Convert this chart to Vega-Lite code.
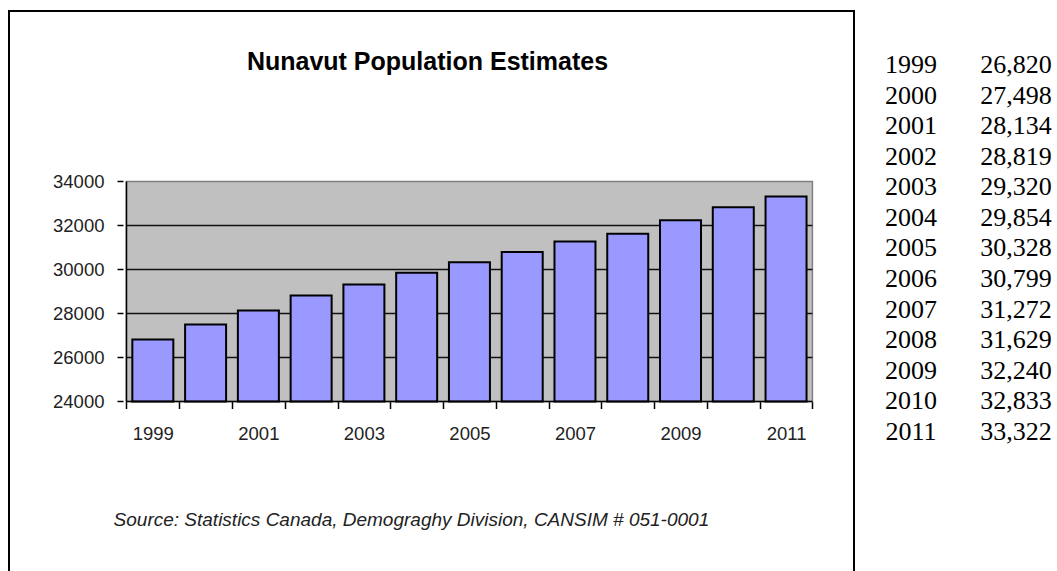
{
  "$schema": "https://vega.github.io/schema/vega-lite/v6.json",
  "padding": {"left": 8, "top": 10, "right": 0, "bottom": 0},
  "background": "white",
  "data": {"values": [
    {"year": 1999, "pop": 26820},
    {"year": 2000, "pop": 27498},
    {"year": 2001, "pop": 28134},
    {"year": 2002, "pop": 28819},
    {"year": 2003, "pop": 29320},
    {"year": 2004, "pop": 29854},
    {"year": 2005, "pop": 30328},
    {"year": 2006, "pop": 30799},
    {"year": 2007, "pop": 31272},
    {"year": 2008, "pop": 31629},
    {"year": 2009, "pop": 32240},
    {"year": 2010, "pop": 32833},
    {"year": 2011, "pop": 33322}
  ]},
  "spacing": 32,
  "bounds": "flush",
  "config": {"view": {"stroke": null}},
  "hconcat": [
    {
      "width": 845,
      "height": 565,
      "view": {"stroke": "#000", "strokeWidth": 2, "fill": "white"},
      "title": {"text": "Nunavut Population Estimates", "font": "Liberation Sans", "fontSize": 25, "fontWeight": "bold", "color": "#000", "anchor": "middle", "orient": "top", "offset": -84, "baseline": "alphabetic", "frame": "group", "dx": -4},
      "resolve": {"axis": {"x": "independent", "y": "independent"}},
      "layer": [
        {
          "data": {"values": [{}]},
          "mark": {"type": "rect", "fill": "#C0C0C0", "stroke": "#808080", "strokeWidth": 1.5},
          "encoding": {
            "x": {"datum": 1998.5, "type": "quantitative", "scale": {"domain": [1996.369, 2012.193], "nice": false, "zero": false}, "axis": null},
            "x2": {"datum": 2011.5},
            "y": {"datum": 24000, "type": "quantitative", "scale": {"domain": [16068, 41750], "nice": false, "zero": false}, "axis": null},
            "y2": {"datum": 34000}
          }
        },
        {
          "data": {"values": [{"g": 26000}, {"g": 28000}, {"g": 30000}, {"g": 32000}]},
          "mark": {"type": "rule", "stroke": "#111", "strokeWidth": 1.5},
          "encoding": {
            "x": {"datum": 1998.5, "type": "quantitative", "scale": {"domain": [1996.369, 2012.193], "nice": false, "zero": false}, "axis": null},
            "x2": {"datum": 2011.5},
            "y": {"field": "g", "type": "quantitative", "scale": {"domain": [16068, 41750], "nice": false, "zero": false}, "axis": null}
          }
        },
        {
          "mark": {"type": "bar", "width": 41, "fill": "#9999FF", "stroke": "#000", "strokeWidth": 2},
          "encoding": {
            "x": {"field": "year", "type": "quantitative", "scale": {"domain": [1996.369, 2012.193], "nice": false, "zero": false},
              "axis": {"values": [1998.5, 1999, 1999.5, 2000, 2000.5, 2001, 2001.5, 2002, 2002.5, 2003, 2003.5, 2004, 2004.5, 2005, 2005.5, 2006, 2006.5, 2007, 2007.5, 2008, 2008.5, 2009, 2009.5, 2010, 2010.5, 2011, 2011.5],
                "offset": -174.5, "domain": false, "grid": false, "tickSize": 7, "tickColor": "#000", "tickWidth": 1.5,
                "tickOpacity": {"condition": {"test": "datum.value % 1 == 0", "value": 0}, "value": 1},
                "labelExpr": "datum.value % 2 == 1 ? format(datum.value, 'd') : ''",
                "labelFont": "Liberation Sans", "labelFontSize": 18.5, "labelColor": "#222", "labelPadding": 16,
                "labelOverlap": false, "labelFlush": false, "labelBound": false, "title": null}},
            "y": {"field": "pop", "type": "quantitative", "scale": {"domain": [16068, 41750], "nice": false, "zero": false},
              "axis": {"values": [24000, 26000, 28000, 30000, 32000, 34000], "offset": -114, "domain": false, "grid": false,
                "tickSize": 6, "tickColor": "#000", "tickWidth": 1.5, "format": "d",
                "labelFont": "Liberation Sans", "labelFontSize": 18.5, "labelColor": "#222", "labelPadding": 13,
                "labelOverlap": false, "labelFlush": false, "labelBound": false, "title": null}},
            "y2": {"datum": 24000}
          }
        },
        {
          "data": {"values": [{}]},
          "mark": {"type": "rule", "stroke": "#000", "strokeWidth": 1.5},
          "encoding": {
            "x": {"datum": 1998.5, "type": "quantitative", "scale": {"domain": [1996.369, 2012.193], "nice": false, "zero": false}, "axis": null},
            "x2": {"datum": 2011.5},
            "y": {"datum": 24000, "type": "quantitative", "scale": {"domain": [16068, 41750], "nice": false, "zero": false}, "axis": null}
          }
        },
        {
          "data": {"values": [{}]},
          "mark": {"type": "rule", "stroke": "#000", "strokeWidth": 1.5},
          "encoding": {
            "x": {"datum": 1998.5, "type": "quantitative", "scale": {"domain": [1996.369, 2012.193], "nice": false, "zero": false}, "axis": null},
            "y": {"datum": 24000, "type": "quantitative", "scale": {"domain": [16068, 41750], "nice": false, "zero": false}, "axis": null},
            "y2": {"datum": 34000}
          }
        },
        {
          "data": {"values": [{"note": "Source: Statistics Canada, Demograghy Division, CANSIM # 051-0001"}]},
          "mark": {"type": "text", "font": "Liberation Sans", "fontSize": 19, "fontStyle": "italic", "color": "#222", "align": "center", "baseline": "alphabetic"},
          "encoding": {
            "x": {"datum": 2003.9, "type": "quantitative", "scale": {"domain": [1996.369, 2012.193], "nice": false, "zero": false}, "axis": null},
            "y": {"datum": 18341, "type": "quantitative", "scale": {"domain": [16068, 41750], "nice": false, "zero": false}, "axis": null},
            "text": {"field": "note"}
          }
        }
      ]
    },
    {
      "width": 50,
      "height": 475,
      "mark": {"type": "text", "font": "Liberation Serif", "fontSize": 26, "color": "#000", "baseline": "middle"},
      "encoding": {
        "y": {"field": "year", "type": "quantitative", "scale": {"domain": [1997.234, 2012.767], "reverse": true, "nice": false, "zero": false}, "axis": null},
        "text": {"field": "year", "type": "quantitative", "format": "d"}
      }
    },
    {
      "width": 96,
      "height": 475,
      "mark": {"type": "text", "font": "Liberation Serif", "fontSize": 26, "color": "#000", "baseline": "middle"},
      "encoding": {
        "y": {"field": "year", "type": "quantitative", "scale": {"domain": [1997.234, 2012.767], "reverse": true, "nice": false, "zero": false}, "axis": null},
        "text": {"field": "pop", "type": "quantitative", "format": ","}
      }
    }
  ]
}
